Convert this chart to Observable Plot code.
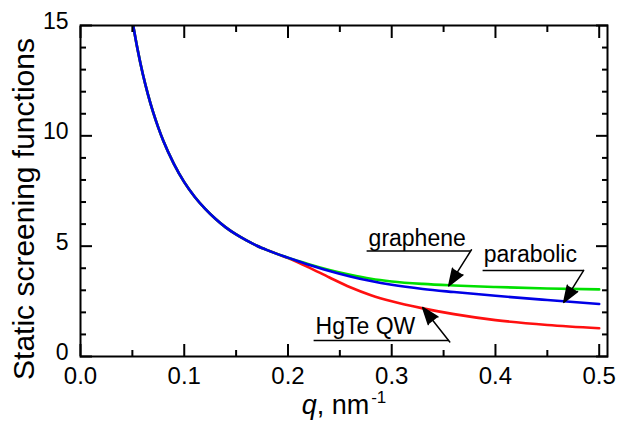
<!DOCTYPE html>
<html><head><meta charset="utf-8">
<script src="https://cdn.jsdelivr.net/npm/d3@7"></script>
<script src="https://cdn.jsdelivr.net/npm/@observablehq/plot@0.6"></script>
<style>
body{margin:0;background:#fff;color:#000;}
#chart svg{font-family:"Liberation Sans",Arial,sans-serif;}
</style>
</head><body><div id="chart"></div>
<script>
// wave vector q, nm^-1
const q =         [0.0508,0.055,0.06,0.065,0.07,0.075,0.08,0.09,0.10,0.11,0.12,0.13,0.14,0.15,0.16,0.17,0.18,0.19,0.20,0.21,0.22,0.24,0.26,0.28,0.30,0.33,0.36,0.40,0.45,0.50];
const graphene =  [15.0,13.92,12.81,11.88,11.07,10.37,9.75,8.73,7.90,7.24,6.70,6.24,5.85,5.53,5.26,5.02,4.82,4.64,4.48,4.33,4.18,3.92,3.70,3.52,3.40,3.29,3.22,3.15,3.08,3.04];
const parabolic = [15.0,13.92,12.81,11.88,11.07,10.37,9.75,8.73,7.90,7.24,6.70,6.24,5.85,5.53,5.26,5.02,4.82,4.64,4.48,4.32,4.16,3.88,3.63,3.42,3.25,3.06,2.92,2.75,2.56,2.38];
const hgte =      [15.0,13.92,12.81,11.88,11.07,10.37,9.75,8.73,7.90,7.24,6.70,6.24,5.85,5.53,5.26,5.02,4.82,4.64,4.46,4.26,4.04,3.58,3.14,2.78,2.50,2.18,1.92,1.65,1.43,1.28];

const xTicksMajor = [0,0.1,0.2,0.3,0.4,0.5];
const xTicksMinor = [0.05,0.15,0.25,0.35,0.45];
const yTicksMajor = [0,5,10,15];
const yTicksMinor = [1,2,3,4,6,7,8,9,11,12,13,14];

const colorHgTe = "#ff1010", colorGraphene = "#00e000", colorParabolic = "#0000e6";

// annotations: label, text anchor, underline, arrow tip
const annLabels  = ["graphene","parabolic","HgTe QW"];
const annTextX   = [0.2777,0.3886,0.2266];
const annTextY   = [5.03,4.28,1.02];
const annLineX1  = [0.2758,0.3876,0.2247];
const annLineX2  = [0.3761,0.4850,0.3549];
const annLineY   = [4.78,3.90,0.725];
const annTipX    = [0.3549,0.4658,0.3298];
const annTipY    = [3.20,2.45,2.22];

const yTitle = "Static screening functions";
const xTitle = "q, nm-1";

const pts = (ys) => q.map((x, i) => ({q: x, v: ys[i]}));
// arrow start pushed back along the shaft (then hidden with insetStart) so the head can be large
const ext = 0.4;
const arrStartX = annLineX2.map((x, i) => x + (x - annTipX[i]) * ext);
const arrStartY = annLineY.map((y, i) => y + (y - annTipY[i]) * ext);

const tickOpts = {strokeWidth: 2, fill: "none", label: null};
const chart = Plot.plot({
  width: 625, height: 428,
  marginLeft: 80, marginRight: 18, marginTop: 25, marginBottom: 72,
  x: {domain: [0, 0.508]},
  y: {domain: [0, 15]},
  style: {fontFamily: "Liberation Sans, Arial, sans-serif", background: "#fff"},
  marks: [
    Plot.line(pts(hgte), {x: "q", y: "v", stroke: colorHgTe, strokeWidth: 2.6, curve: "monotone-x", clip: true}),
    Plot.line(pts(graphene), {x: "q", y: "v", stroke: colorGraphene, strokeWidth: 2.6, curve: "monotone-x", clip: true}),
    Plot.line(pts(parabolic), {x: "q", y: "v", stroke: colorParabolic, strokeWidth: 2.6, curve: "monotone-x", clip: true}),
    Plot.frame({strokeWidth: 2}),
    Plot.axisX(xTicksMajor, {anchor: "bottom", tickSize: -12, ...tickOpts}),
    Plot.axisX(xTicksMinor, {anchor: "bottom", tickSize: -6, ...tickOpts}),
    Plot.axisX(xTicksMajor, {anchor: "top", tickSize: -12, ...tickOpts}),
    Plot.axisX(xTicksMinor, {anchor: "top", tickSize: -6, ...tickOpts}),
    Plot.axisY(yTicksMajor, {anchor: "left", tickSize: -12, ...tickOpts}),
    Plot.axisY(yTicksMinor, {anchor: "left", tickSize: -6, ...tickOpts}),
    Plot.axisY(yTicksMajor, {anchor: "right", tickSize: -12, ...tickOpts}),
    Plot.axisY(yTicksMinor, {anchor: "right", tickSize: -6, ...tickOpts}),
    Plot.axisX(xTicksMajor, {anchor: "bottom", tickSize: 0, tickPadding: 10, tickFormat: d3.format(".1f"), fontSize: 24, label: null}),
    Plot.axisY(yTicksMajor, {anchor: "left", tickSize: 0, tickPadding: 12, dy: -4, tickFormat: d3.format("d"), fontSize: 23, label: null}),
    Plot.link(annLabels, {x1: annLineX1, x2: annLineX2, y1: annLineY, y2: annLineY, stroke: "#000", strokeWidth: 1.5}),
    Plot.arrow(annLabels, {x1: arrStartX, y1: arrStartY, x2: annTipX, y2: annTipY, insetStart: 15, stroke: "#000", fill: "#000", strokeWidth: 1.5, headLength: 18, headAngle: 40}),
    Plot.text(annLabels, {x: annTextX, y: annTextY, text: d => d, textAnchor: "start", lineAnchor: "bottom", fontSize: 23, fill: "#000"}),
    Plot.text([yTitle], {frameAnchor: "left", dx: -47, dy: 18, rotate: -90, textAnchor: "middle", lineAnchor: "bottom", fontSize: 30, text: d => d, fill: "#000"}),
    Plot.text([xTitle], {frameAnchor: "bottom", dy: 57, textAnchor: "middle", lineAnchor: "bottom", fontSize: 27, text: d => d, fill: "#000"})
  ]
});
document.getElementById("chart").appendChild(chart);
// style the x title: italic q and superscript -1
const xt = Array.from(chart.querySelectorAll("text")).find(t => t.textContent === xTitle);
if (xt) {
  xt.textContent = "";
  const ns = "http://www.w3.org/2000/svg";
  const t1 = document.createElementNS(ns, "tspan"); t1.setAttribute("font-style", "italic"); t1.textContent = "q";
  const t2 = document.createElementNS(ns, "tspan"); t2.textContent = ", nm";
  const t3 = document.createElementNS(ns, "tspan"); t3.setAttribute("font-size", "17"); t3.setAttribute("dy", "-11"); t3.setAttribute("dx", "2"); t3.textContent = "-1";
  xt.append(t1, t2, t3);
}
</script>
</body></html>
